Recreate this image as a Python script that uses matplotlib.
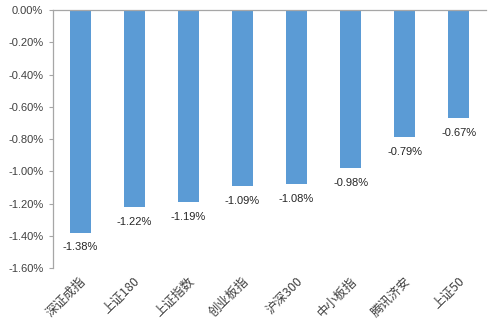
import matplotlib
matplotlib.use("Agg")
import matplotlib.pyplot as plt
from matplotlib.ticker import FuncFormatter
import matplotlib.transforms as mtransforms

plt.rcParams['font.family'] = ['Liberation Sans', 'Noto Sans CJK SC', 'DejaVu Sans']

categories = ["深证成指", "上证180", "上证指数", "创业板指", "沪深300", "中小板指", "腾讯济安", "上证50"]
values = [-1.38, -1.22, -1.19, -1.09, -1.08, -0.98, -0.79, -0.67]
yticks = [0.0, -0.2, -0.4, -0.6, -0.8, -1.0, -1.2, -1.4, -1.6]

fig = plt.figure(figsize=(4.93, 3.23), dpi=100)
ax = fig.add_axes([0.1075, 0.170, 0.878, 0.799])

x = list(range(len(categories)))
ax.bar(x, values, width=0.39, color="#5B9BD5", zorder=2)
ax.set_xlim(-0.5, len(categories) - 0.5)
ax.set_ylim(-1.6, 0.0)
ax.set_yticks(yticks)
ax.yaxis.set_major_formatter(FuncFormatter(lambda v, p: f"{v:.2f}%"))
ax.tick_params(axis='y', labelsize=8, color="#A6A6A6", labelcolor="#404040",
               length=3, width=0.8, direction='out', pad=4)
ax.set_xticks(x)
ax.set_xticklabels(categories, rotation=45, ha='right', va='center', rotation_mode='anchor',
                   fontsize=9, color="#404040",
                   family=['Noto Sans CJK SC', 'DejaVu Sans'])
ax.tick_params(axis='x', length=0, pad=8)
offset = mtransforms.ScaledTranslation(4 / 100, 0, fig.dpi_scale_trans)
for lab in ax.get_xticklabels():
    lab.set_transform(lab.get_transform() + offset)

for s in ['right', 'bottom']:
    ax.spines[s].set_visible(False)
for s in ['left', 'top']:
    ax.spines[s].set_color("#A6A6A6")
    ax.spines[s].set_linewidth(0.9)

for xi, v in zip(x, values):
    ax.annotate(f"{v:.2f}%", (xi, v), xytext=(0, -7), textcoords='offset points',
                ha='center', va='top', fontsize=8, color="#262626")

fig.savefig("out.png", dpi=100)
